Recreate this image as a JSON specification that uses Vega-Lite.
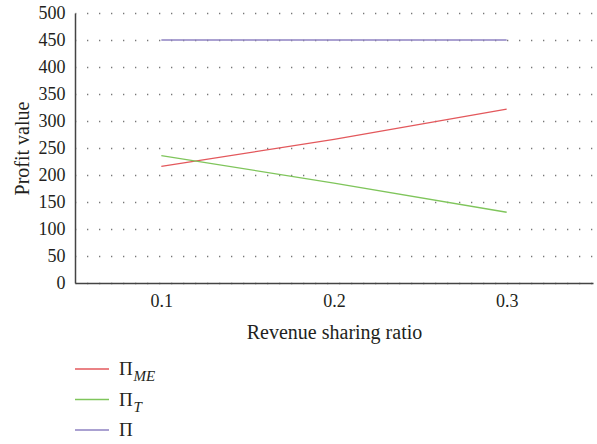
{
  "$schema": "https://vega.github.io/schema/vega-lite/v6.json",
  "padding": {"left": 12, "top": 4, "right": 3, "bottom": 5},
  "config": {
    "view": {"stroke": null},
    "font": "Liberation Serif",
    "axis": {"labelFont": "Liberation Serif", "titleFont": "Liberation Serif", "labelFontSize": 18, "titleFontSize": 20, "titleFontWeight": "normal", "labelColor": "#231f20", "titleColor": "#231f20", "ticks": false, "tickSize": 0, "domainColor": "#444444", "domainWidth": 1.5}
  },
  "spacing": 18,
  "vconcat": [
    {
      "width": 518,
      "height": 270,
      "data": {"values": [
        {"r": 0.1, "series": "ME", "value": 216},
        {"r": 0.2, "series": "ME", "value": 266},
        {"r": 0.3, "series": "ME", "value": 322},
        {"r": 0.1, "series": "T", "value": 236},
        {"r": 0.2, "series": "T", "value": 185},
        {"r": 0.3, "series": "T", "value": 131},
        {"r": 0.1, "series": "P", "value": 450},
        {"r": 0.2, "series": "P", "value": 450},
        {"r": 0.3, "series": "P", "value": 450}
      ]},
      "mark": {"type": "line", "strokeWidth": 1.3},
      "encoding": {
        "x": {"field": "r", "type": "quantitative", "scale": {"domain": [0.05, 0.35], "nice": false, "zero": false},
          "axis": {"values": [0.1, 0.2, 0.3], "format": ".1f", "grid": false, "labelPadding": 9, "titlePadding": 12, "title": "Revenue sharing ratio"}},
        "y": {"field": "value", "type": "quantitative", "scale": {"domain": [0, 500], "nice": false},
          "axis": {"values": [0, 50, 100, 150, 200, 250, 300, 350, 400, 450, 500], "grid": true, "gridColor": "#777777", "gridDash": [1.3, 10.7], "gridDashOffset": 0.5, "gridWidth": 1.3, "labelPadding": 10, "titlePadding": 6, "title": "Profit value"}},
        "color": {"field": "series", "type": "nominal", "scale": {"domain": ["ME", "T", "P"], "range": ["#e3585c", "#7fc55b", "#8e82c2"]}, "legend": null}
      }
    },
    {
      "width": 100,
      "height": 61,
      "data": {"values": [
        {"series": "ME", "main": "Π", "sub": "ME"},
        {"series": "T", "main": "Π", "sub": "T"},
        {"series": "P", "main": "Π", "sub": ""}
      ]},
      "encoding": {
        "y": {"field": "series", "type": "nominal", "scale": {"type": "point", "domain": ["ME", "T", "P"], "padding": 0}, "axis": null}
      },
      "layer": [
        {
          "mark": {"type": "rule", "strokeWidth": 1.3},
          "encoding": {
            "x": {"datum": 0, "type": "quantitative", "scale": {"domain": [0, 100], "nice": false}, "axis": null},
            "x2": {"datum": 34},
            "color": {"field": "series", "type": "nominal", "scale": {"domain": ["ME", "T", "P"], "range": ["#e3585c", "#7fc55b", "#8e82c2"]}, "legend": null}
          }
        },
        {
          "mark": {"type": "text", "align": "left", "baseline": "middle", "fontSize": 19, "color": "#231f20", "font": "Liberation Serif"},
          "encoding": {
            "x": {"datum": 44, "type": "quantitative"},
            "text": {"field": "main"}
          }
        },
        {
          "mark": {"type": "text", "align": "left", "baseline": "middle", "fontSize": 15, "fontStyle": "italic", "color": "#231f20", "font": "Liberation Serif", "dy": 7},
          "encoding": {
            "x": {"datum": 58.5, "type": "quantitative"},
            "text": {"field": "sub"}
          }
        }
      ]
    }
  ]
}
